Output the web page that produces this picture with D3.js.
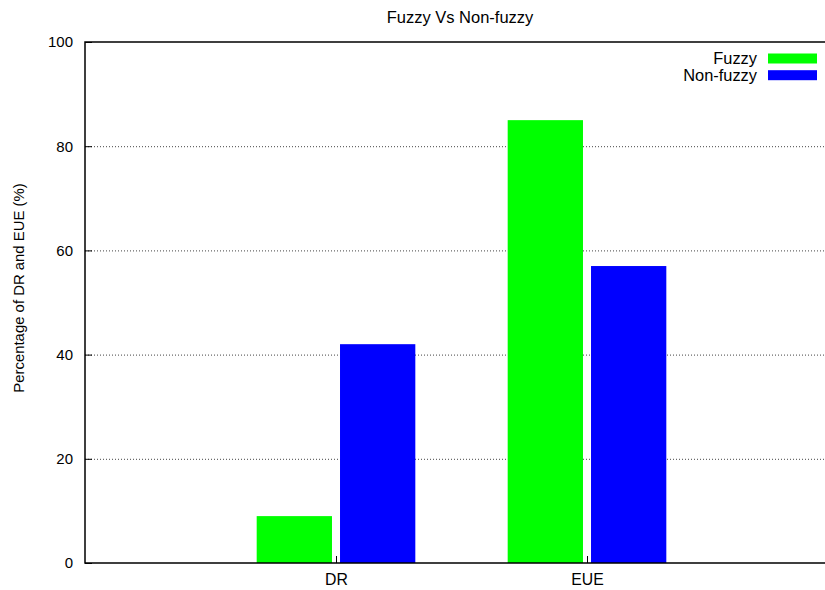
<!DOCTYPE html>
<html>
<head>
<meta charset="utf-8">
<script src="https://cdn.jsdelivr.net/npm/d3@7"></script>
<style>
  html, body { margin: 0; padding: 0; background: #fff; }
  svg { display: block; font-family: "Liberation Sans", Arial, sans-serif; }
</style>
</head>
<body>
<svg id="chart" width="825" height="590"></svg>
<script>
// Categories along the x axis and the two series plotted for each
const categories = ["DR", "EUE"];
const seriesNames = ["Fuzzy", "Non-fuzzy"];
const fuzzyValues = [9, 85];
const nonFuzzyValues = [42, 57];
const yTicks = [0, 20, 40, 60, 80, 100];
const seriesColors = ["#00ff00", "#0000ff"];

const svg = d3.select("#chart");
const W = 825, H = 590;
const margin = { left: 85, top: 42, bottom: 563 };

// Category index scale, running one unit past each end (right edge is clipped by the canvas)
const x = d3.scaleLinear().domain([-1, 2]).range([margin.left, margin.left + 3 * 251]);
const y = d3.scaleLinear().domain([0, 100]).range([margin.bottom, margin.top]);

const font = "Liberation Sans, Arial, sans-serif";

// Dotted horizontal grid lines
svg.append("g")
  .selectAll("line")
  .data(yTicks.filter(d => d > 0 && d < 100))
  .join("line")
  .attr("x1", margin.left).attr("x2", W)
  .attr("y1", d => y(d) + 0.5).attr("y2", d => y(d) + 0.5)
  .attr("stroke", "#444")
  .attr("stroke-width", 1)
  .attr("stroke-dasharray", "1,2");

// Bars: two per category, each 0.3 units wide, placed either side of the tick
const barW = 0.3, barOff = 0.166;
const bars = [];
categories.forEach((c, i) => {
  bars.push({ x: i - barOff, v: fuzzyValues[i], s: 0 });
  bars.push({ x: i + barOff, v: nonFuzzyValues[i], s: 1 });
});
svg.append("g")
  .selectAll("rect")
  .data(bars)
  .join("rect")
  .attr("x", d => x(d.x - barW / 2))
  .attr("width", d => x(d.x + barW / 2) - x(d.x - barW / 2))
  .attr("y", d => y(d.v))
  .attr("height", d => y(0) - y(d.v))
  .attr("fill", d => seriesColors[d.s]);

// Y axis
const yAxis = d3.axisLeft(y).tickValues(yTicks).tickSize(0).tickPadding(12);
const gy = svg.append("g").attr("transform", `translate(${margin.left},0)`).call(yAxis);
gy.select(".domain").remove();
gy.selectAll("text").attr("font-size", 15).attr("fill", "#000").attr("font-family", font);
// small inward tick marks
svg.append("g").selectAll("line").data(yTicks).join("line")
  .attr("x1", margin.left).attr("x2", margin.left + 7)
  .attr("y1", d => y(d) + 0.5).attr("y2", d => y(d) + 0.5)
  .attr("stroke", "#000").attr("stroke-width", 1);

// X axis labels and small upward ticks at category positions
const xAxis = d3.axisBottom(x).tickValues(categories.map((c, i) => i))
  .tickFormat(i => categories[i]).tickSize(0).tickPadding(11);
const gx = svg.append("g").attr("transform", `translate(0,${margin.bottom})`).call(xAxis);
gx.select(".domain").remove();
gx.selectAll("text").attr("font-size", 15.8).attr("fill", "#000").attr("font-family", font);
svg.append("g").selectAll("line").data(categories.map((c, i) => i)).join("line")
  .attr("x1", d => Math.round(x(d)) + 0.5).attr("x2", d => Math.round(x(d)) + 0.5)
  .attr("y1", margin.bottom).attr("y2", margin.bottom - 7)
  .attr("stroke", "#000").attr("stroke-width", 1);

// Plot frame: left, top and bottom edges
svg.append("path")
  .attr("d", `M${W},${margin.top}H${margin.left}V${margin.bottom}H${W}`)
  .attr("fill", "none")
  .attr("stroke", "#000")
  .attr("stroke-width", 1.5);

// Title
svg.append("text")
  .attr("x", 460).attr("y", 23)
  .attr("text-anchor", "middle")
  .attr("font-size", 16.5)
  .text("Fuzzy Vs Non-fuzzy");

// Y axis title
svg.append("text")
  .attr("transform", `translate(23.5,288) rotate(-90)`)
  .attr("text-anchor", "middle")
  .attr("font-size", 14.9)
  .text("Percentage of DR and EUE (%)");

// Legend
const legend = svg.append("g");
seriesNames.forEach((name, i) => {
  const ly = 58.5 + i * 16.7;
  legend.append("text")
    .attr("x", 757).attr("y", ly + 5.5)
    .attr("text-anchor", "end")
    .attr("font-size", 16.4)
    .text(name);
  legend.append("rect")
    .attr("x", 768).attr("y", ly - 5)
    .attr("width", 49).attr("height", 10)
    .attr("fill", seriesColors[i]);
});
</script>
</body>
</html>
